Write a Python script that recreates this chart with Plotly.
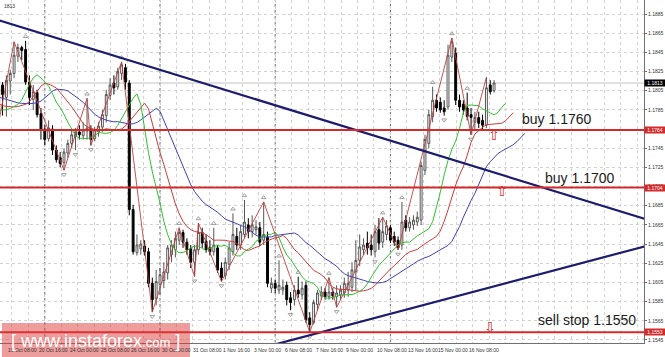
import plotly.graph_objects as go

# ---------------- data (EURUSD H4) ----------------
first_bar = -22  # bar index of first value; bar 0 = 19 Oct 08:00 (bars -22..-2 are off-screen warm-up)

opens = [
    1.1801, 1.1806, 1.1808, 1.1806, 1.1804, 1.1802, 1.1799, 1.1803, 1.1796, 1.1793,
    1.1791, 1.1788, 1.1785, 1.1783, 1.1780, 1.1778, 1.1776, 1.1781, 1.1784, 1.1787,
    1.1785,
    1.1811, 1.1798, 1.1815, 1.1823, 1.1841, 1.1850, 1.1848, 1.1814, 1.1796, 1.1803,
    1.1781, 1.1765, 1.1755, 1.1765, 1.1743, 1.1735, 1.1730, 1.1740, 1.1750, 1.1757,
    1.1762, 1.1758, 1.1763, 1.1765, 1.1755, 1.1762, 1.1767, 1.1779, 1.1800, 1.1813,
    1.1809, 1.1823, 1.1829, 1.1813, 1.1681, 1.1636, 1.1640, 1.1643, 1.1637, 1.1604,
    1.1588, 1.1603, 1.1607, 1.1615, 1.1634, 1.1639, 1.1649, 1.1657, 1.1647, 1.1640,
    1.1626, 1.1639, 1.1657, 1.1648, 1.1641, 1.1637, 1.1641, 1.1620, 1.1612, 1.1624,
    1.1637, 1.1653, 1.1644, 1.1655, 1.1665, 1.1658, 1.1660, 1.1662, 1.1649, 1.1652,
    1.1599, 1.1604, 1.1597, 1.1597, 1.1602, 1.1589, 1.1587, 1.1597, 1.1592, 1.1602,
    1.1568, 1.1563, 1.1582, 1.1591, 1.1595, 1.1590, 1.1595, 1.1590, 1.1592, 1.1594,
    1.1597, 1.1600, 1.1616, 1.1628, 1.1639, 1.1646, 1.1644, 1.1637, 1.1660, 1.1647,
    1.1655, 1.1662, 1.1653, 1.1649, 1.1644, 1.1670, 1.1662, 1.1665, 1.1668, 1.1670,
    1.1722, 1.1750, 1.1778, 1.1795, 1.1793, 1.1787, 1.1788, 1.1840, 1.1844, 1.1795,
    1.1791, 1.1787, 1.1780, 1.1772, 1.1777, 1.1774, 1.1769, 1.1811, 1.1805,
]
highs = [
    1.1809, 1.1811, 1.1813, 1.1811, 1.1809, 1.1806, 1.1806, 1.1803, 1.1800, 1.1798,
    1.1795, 1.1792, 1.1790, 1.1787, 1.1785, 1.1783, 1.1784, 1.1787, 1.1790, 1.1792,
    1.1812,
    1.1814, 1.1821, 1.1827, 1.1856, 1.1854, 1.1852, 1.1857, 1.1821, 1.1811, 1.1806,
    1.1787, 1.1769, 1.1774, 1.1769, 1.1748, 1.1741, 1.1745, 1.1754, 1.1764, 1.1766,
    1.1769, 1.1772, 1.1797, 1.1769, 1.1767, 1.1772, 1.1785, 1.1806, 1.1818, 1.1821,
    1.1829, 1.1835, 1.1833, 1.1816, 1.1686, 1.1655, 1.1649, 1.1649, 1.1641, 1.1610,
    1.1618, 1.1620, 1.1626, 1.1644, 1.1649, 1.1658, 1.1662, 1.1660, 1.1651, 1.1644,
    1.1644, 1.1667, 1.1662, 1.1655, 1.1649, 1.1662, 1.1644, 1.1626, 1.1631, 1.1647,
    1.1677, 1.1662, 1.1665, 1.1691, 1.1672, 1.1675, 1.1670, 1.1668, 1.1689, 1.1658,
    1.1610, 1.1608, 1.1628, 1.1608, 1.1606, 1.1595, 1.1602, 1.1611, 1.1606, 1.1606,
    1.1574, 1.1587, 1.1597, 1.1601, 1.1599, 1.1610, 1.1599, 1.1602, 1.1602, 1.1610,
    1.1616, 1.1626, 1.1649, 1.1655, 1.1651, 1.1658, 1.1655, 1.1665, 1.1672, 1.1673,
    1.1670, 1.1665, 1.1658, 1.1653, 1.1689, 1.1675, 1.1673, 1.1675, 1.1679, 1.1731,
    1.1759, 1.1785, 1.1809, 1.1801, 1.1798, 1.1795, 1.1853, 1.1860, 1.1850, 1.1801,
    1.1795, 1.1803, 1.1787, 1.1783, 1.1783, 1.1780, 1.1819, 1.1816, 1.1816,
]
lows = [
    1.1799, 1.1801, 1.1803, 1.1801, 1.1799, 1.1796, 1.1796, 1.1793, 1.1790, 1.1788,
    1.1785, 1.1782, 1.1780, 1.1777, 1.1775, 1.1773, 1.1774, 1.1777, 1.1780, 1.1782,
    1.1772,
    1.1779, 1.1778, 1.1801, 1.1818, 1.1835, 1.1837, 1.1811, 1.1790, 1.1785, 1.1777,
    1.1754, 1.1748, 1.1752, 1.1738, 1.1730, 1.1725, 1.1722, 1.1735, 1.1745, 1.1743,
    1.1754, 1.1754, 1.1754, 1.1748, 1.1752, 1.1757, 1.1762, 1.1772, 1.1795, 1.1801,
    1.1806, 1.1816, 1.1806, 1.1675, 1.1634, 1.1633, 1.1634, 1.1633, 1.1600, 1.1574,
    1.1581, 1.1592, 1.1599, 1.1608, 1.1626, 1.1631, 1.1644, 1.1641, 1.1634, 1.1620,
    1.1611, 1.1634, 1.1641, 1.1636, 1.1633, 1.1633, 1.1615, 1.1606, 1.1608, 1.1618,
    1.1633, 1.1639, 1.1639, 1.1651, 1.1651, 1.1652, 1.1655, 1.1643, 1.1644, 1.1600,
    1.1594, 1.1594, 1.1593, 1.1592, 1.1581, 1.1576, 1.1581, 1.1589, 1.1587, 1.1563,
    1.1553, 1.1561, 1.1576, 1.1587, 1.1587, 1.1587, 1.1587, 1.1579, 1.1587, 1.1589,
    1.1590, 1.1595, 1.1597, 1.1622, 1.1634, 1.1634, 1.1633, 1.1631, 1.1639, 1.1641,
    1.1649, 1.1646, 1.1643, 1.1639, 1.1639, 1.1658, 1.1658, 1.1660, 1.1664, 1.1665,
    1.1717, 1.1745, 1.1772, 1.1783, 1.1782, 1.1779, 1.1785, 1.1835, 1.1790, 1.1783,
    1.1780, 1.1774, 1.1759, 1.1764, 1.1766, 1.1764, 1.1766, 1.1801, 1.1803,
]
closes = [
    1.1806, 1.1808, 1.1806, 1.1804, 1.1802, 1.1799, 1.1803, 1.1796, 1.1793, 1.1791,
    1.1788, 1.1785, 1.1783, 1.1780, 1.1778, 1.1776, 1.1781, 1.1784, 1.1787, 1.1785,
    1.1809,
    1.1801, 1.1816, 1.1823, 1.1842, 1.1850, 1.1847, 1.1814, 1.1798, 1.1804, 1.1780,
    1.1764, 1.1754, 1.1766, 1.1743, 1.1733, 1.1729, 1.1741, 1.1750, 1.1759, 1.1762,
    1.1759, 1.1764, 1.1766, 1.1754, 1.1764, 1.1768, 1.1780, 1.1801, 1.1811, 1.1808,
    1.1825, 1.1832, 1.1814, 1.1681, 1.1637, 1.1644, 1.1645, 1.1637, 1.1604, 1.1587,
    1.1606, 1.1613, 1.1616, 1.1641, 1.1644, 1.1651, 1.1657, 1.1647, 1.1639, 1.1626,
    1.1639, 1.1657, 1.1646, 1.1639, 1.1637, 1.1644, 1.1618, 1.1610, 1.1626, 1.1641,
    1.1655, 1.1644, 1.1658, 1.1668, 1.1658, 1.1665, 1.1663, 1.1647, 1.1655, 1.1604,
    1.1604, 1.1599, 1.1602, 1.1600, 1.1587, 1.1584, 1.1597, 1.1593, 1.1599, 1.1566,
    1.1561, 1.1584, 1.1594, 1.1595, 1.1590, 1.1595, 1.1591, 1.1594, 1.1597, 1.1604,
    1.1604, 1.1618, 1.1628, 1.1642, 1.1644, 1.1641, 1.1639, 1.1658, 1.1646, 1.1658,
    1.1664, 1.1649, 1.1647, 1.1641, 1.1668, 1.1662, 1.1668, 1.1670, 1.1673, 1.1727,
    1.1754, 1.1780, 1.1795, 1.1787, 1.1785, 1.1783, 1.1842, 1.1856, 1.1795, 1.1788,
    1.1785, 1.1778, 1.1777, 1.1777, 1.1771, 1.1769, 1.1808, 1.1804, 1.1813,
]

# time labels (one every 8 H4 bars, first one at bar -8)
time_labels = ["18 Oct 00:00", "19 Oct 08:00", "20 Oct 16:00", "24 Oct 00:00", "25 Oct 08:00",
               "26 Oct 16:00", "30 Oct 00:00", "31 Oct 08:00", "1 Nov 16:00", "3 Nov 00:00",
               "6 Nov 08:00", "7 Nov 16:00", "9 Nov 00:00", "10 Nov 08:00", "13 Nov 16:00",
               "15 Nov 00:00", "16 Nov 08:00"]
week_start_bars = [10, 40, 70, 100]     # Monday 00:00 separators

price_ticks = [1.1545, 1.1565, 1.1585, 1.1605, 1.1625, 1.1645, 1.1665, 1.1685, 1.1705,
               1.1725, 1.1745, 1.1765, 1.1785, 1.1805, 1.1825, 1.1845, 1.1865, 1.1885]

# ZigZag pivots and fractals (bar indices)
zz_bars = [-2, 2, 15, 21, 22, 30, 38, 45, 49, 50, 56, 67, 79, 84, 86, 98, 102, 116, 121, 125]
zz_kind = ["L", "H", "L", "H", "L", "H", "L", "H", "L", "H", "L", "H", "L", "H", "L", "H", "L", "H", "L", "H"]
up_fractals = [5, 21, 30, 45, 50, 54, 59, 62, 67, 71, 76, 84, 98, 103, 111, 116, 120]
down_fractals = [15, 18, 22, 38, 49, 56, 74, 79, 86, 96, 102, 114, 121]

# trend lines: (bar, price) anchors
upper_trend_bars = [0, 160]
upper_trend_prices = [1.1876, 1.1679]
lower_trend_bars = [80, 160]
lower_trend_prices = [1.1551, 1.1636]

# order levels
level_prices = [1.1764, 1.1704, 1.1553]
level_texts = ["buy 1.1760", "buy 1.1700", "sell stop 1.1550"]
current_price = 1.1813

# ---------------- derived ----------------
n = len(closes)
bars = [first_bar + k for k in range(n)]
median = [(h + l) / 2 for h, l in zip(highs, lows)]


def smma(vals, period):
    out = [None] * len(vals)
    s = sum(vals[:period]) / period
    out[period - 1] = s
    for k in range(period, len(vals)):
        s = (s * (period - 1) + vals[k]) / period
        out[k] = s
    return out


def shifted(vals, shift):
    xs, ys = [], []
    for b, v in zip(bars, vals):
        if v is not None:
            xs.append(b + shift)
            ys.append(v)
    return xs, ys


jaw_x, jaw_y = shifted(smma(median, 13), 8)
teeth_x, teeth_y = shifted(smma(median, 8), 5)
lips_x, lips_y = shifted(smma(median, 5), 3)


def at(arr, b):
    return arr[b - first_bar]


zz_y = [at(highs, b) if k == "H" else at(lows, b) for b, k in zip(zz_bars, zz_kind)]
frac_off = 0.00045
upf_y = [at(highs, b) + frac_off for b in up_fractals]
dnf_y = [at(lows, b) - frac_off for b in down_fractals]


def ray(bx, py, x0, x1):
    s = (py[1] - py[0]) / (bx[1] - bx[0])
    return [x0, x1], [py[0] + s * (x0 - bx[0]), py[0] + s * (x1 - bx[0])]


ut_x, ut_y = ray(upper_trend_bars, upper_trend_prices, -5, 175)
lt_x, lt_y = ray(lower_trend_bars, lower_trend_prices, 60, 175)

# ---------------- figure ----------------
X_RANGE = [-1.667, 166.04]
Y_RANGE = [1.15418, 1.18996]
FONT = "Liberation Sans, Arial, sans-serif"

fig = go.Figure()

fig.add_trace(go.Candlestick(
    x=bars, open=opens, high=highs, low=lows, close=closes,
    increasing=dict(line=dict(color="#555555", width=1), fillcolor="#ffffff"),
    decreasing=dict(line=dict(color="#000000", width=1), fillcolor="#000000"),
    whiskerwidth=0, hoverinfo="skip", showlegend=False))

fig.add_trace(go.Scatter(x=jaw_x, y=jaw_y, mode="lines", line=dict(color="#3f3fb8", width=1), hoverinfo="skip"))
fig.add_trace(go.Scatter(x=teeth_x, y=teeth_y, mode="lines", line=dict(color="#cc3b3b", width=1), hoverinfo="skip"))
fig.add_trace(go.Scatter(x=lips_x, y=lips_y, mode="lines", line=dict(color="#2fc22f", width=1), hoverinfo="skip"))

fig.add_trace(go.Scatter(x=zz_bars, y=zz_y, mode="lines", line=dict(color="#c04040", width=0.9), hoverinfo="skip"))

fig.add_trace(go.Scatter(x=up_fractals, y=upf_y, mode="markers",
                         marker=dict(symbol="triangle-up-open", size=4, color="#a0a0a0",
                                     line=dict(width=1, color="#a0a0a0")), hoverinfo="skip"))
fig.add_trace(go.Scatter(x=down_fractals, y=dnf_y, mode="markers",
                         marker=dict(symbol="triangle-down-open", size=4, color="#a0a0a0",
                                     line=dict(width=1, color="#a0a0a0")), hoverinfo="skip"))

fig.add_trace(go.Scatter(x=ut_x, y=ut_y, mode="lines", line=dict(color="#1c1c6e", width=2.2), hoverinfo="skip"))
fig.add_trace(go.Scatter(x=lt_x, y=lt_y, mode="lines", line=dict(color="#1c1c6e", width=2.2), hoverinfo="skip"))

shapes = []
# week separators
for b in week_start_bars:
    shapes.append(dict(type="line", xref="x", yref="paper", x0=b, x1=b, y0=0, y1=1,
                       line=dict(color="#6a6a6a", width=1, dash="dot"), layer="below"))
# current price line
shapes.append(dict(type="line", xref="paper", yref="y", x0=0, x1=1, y0=current_price, y1=current_price,
                   line=dict(color="#c4c4c4", width=1), layer="below"))
# order level lines
for p in level_prices:
    shapes.append(dict(type="line", xref="paper", yref="y", x0=0, x1=1, y0=p, y1=p,
                       line=dict(color="#d42a2a", width=2), layer="above"))
# watermark box
shapes.append(dict(type="rect", xref="paper", yref="paper", x0=0.003, x1=0.295, y0=-0.041, y1=0.058,
                   fillcolor="rgba(222,60,60,0.5)", line=dict(width=0), layer="above"))

annotations = []
# x-axis labels (left aligned at bar)
for k, t in enumerate(time_labels):
    annotations.append(dict(x=-8 + 8 * k, xref="x", y=-0.005, yref="paper", text=t, showarrow=False,
                            xanchor="left", yanchor="top", font=dict(size=5, color="#333333", family=FONT)))
# right axis value boxes
for p in level_prices:
    annotations.append(dict(x=1, xref="paper", y=p, yref="y", text=f"{p:.4f}", showarrow=False,
                            xanchor="left", yanchor="middle", bgcolor="#d42a2a", width=20, height=6,
                            borderpad=0, font=dict(size=5, color="#ffffff", family=FONT)))
annotations.append(dict(x=1, xref="paper", y=current_price, yref="y", text=f"{current_price:.4f}",
                        showarrow=False, xanchor="left", yanchor="middle", bgcolor="#000000", width=20,
                        height=6, borderpad=0, font=dict(size=5, color="#ffffff", family=FONT)))
# order texts
annotations.append(dict(x=520 / 644, xref="paper", y=level_prices[0], yref="y", yshift=11, text=level_texts[0],
                        showarrow=False, xanchor="left", yanchor="middle",
                        font=dict(size=14, color="#1a1a1a", family=FONT)))
annotations.append(dict(x=616 / 644, xref="paper", y=level_prices[1], yref="y", yshift=10, text=level_texts[1],
                        showarrow=False, xanchor="right", yanchor="middle",
                        font=dict(size=14, color="#1a1a1a", family=FONT)))
annotations.append(dict(x=638 / 644, xref="paper", y=level_prices[2], yref="y", yshift=12, text=level_texts[2],
                        showarrow=False, xanchor="right", yanchor="middle",
                        font=dict(size=14, color="#1a1a1a", family=FONT)))
# arrows on the order lines
annotations.append(dict(x=127, xref="x", y=level_prices[0], yref="y", yshift=-5, text="⇧", showarrow=False,
                        font=dict(size=14, color="#d42a2a", family="DejaVu Sans")))
annotations.append(dict(x=129, xref="x", y=level_prices[1], yref="y", yshift=-3, text="⇧", showarrow=False,
                        font=dict(size=14, color="#d42a2a", family="DejaVu Sans")))
annotations.append(dict(x=126, xref="x", y=level_prices[2], yref="y", yshift=5, text="⇩", showarrow=False,
                        font=dict(size=14, color="#d42a2a", family="DejaVu Sans")))
# watermark text
annotations.append(dict(x=0.149, xref="paper", y=0.006, yref="paper",
                        text="[ www.instaforex<span style='font-size:13px'>.com</span> ]", showarrow=False,
                        xanchor="center", yanchor="middle", font=dict(size=18, color="#ffffff", family=FONT)))
# top-left info
annotations.append(dict(x=0.003, xref="paper", y=0.998, yref="paper", text="1813", showarrow=False,
                        xanchor="left", yanchor="top", font=dict(size=5, color="#333333", family=FONT)))

fig.update_layout(
    width=665, height=357,
    margin=dict(l=0, r=21, t=0, b=14),
    paper_bgcolor="#ffffff", plot_bgcolor="#ffffff",
    showlegend=False,
    shapes=shapes, annotations=annotations,
    xaxis=dict(range=X_RANGE, rangeslider=dict(visible=False), showticklabels=False,
               showgrid=True, gridcolor="#d2d2d2", griddash="dot", gridwidth=1,
               tick0=10, dtick=30 / 7, zeroline=False, showline=True, linecolor="#707070",
               linewidth=1, ticks=""),
    yaxis=dict(range=Y_RANGE, side="right", tickvals=price_ticks,
               ticktext=[f"{v:.4f}" for v in price_ticks],
               tickfont=dict(size=5, color="#333333", family=FONT),
               ticks="outside", ticklen=2, tickcolor="#707070",
               showgrid=True, gridcolor="#d2d2d2", griddash="dot", gridwidth=1,
               zeroline=False, showline=True, linecolor="#707070", linewidth=1),
)

fig.write_html("out.html", config={"displayModeBar": False},
               post_script="document.body.style.margin='0px';document.body.style.overflow='hidden';")
